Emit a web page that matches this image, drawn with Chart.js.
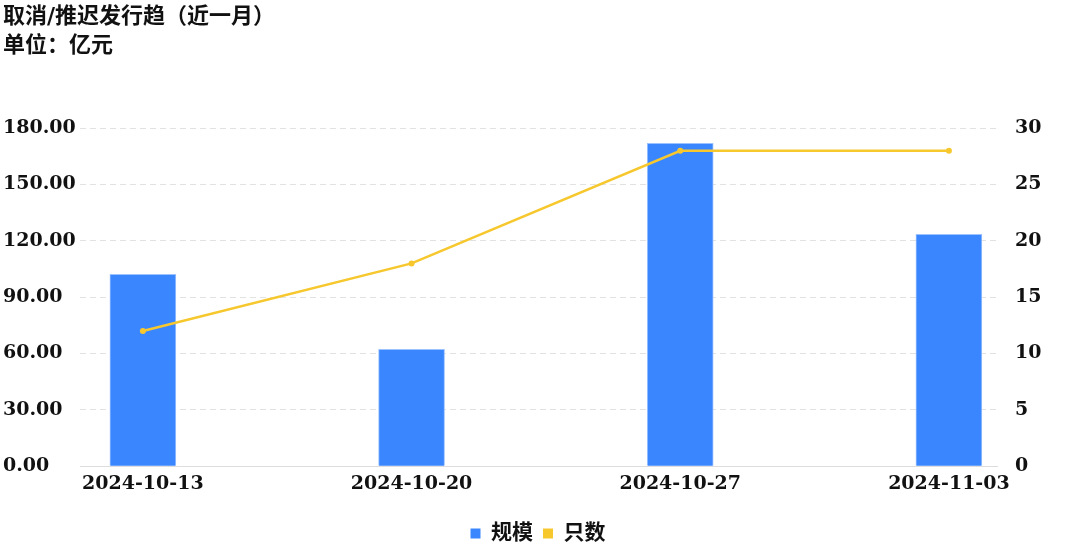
<!DOCTYPE html>
<html>
<head>
<meta charset="utf-8">
<script src="https://cdn.jsdelivr.net/npm/chart.js@4.4.1/dist/chart.umd.min.js"></script>
<style>
  html, body { margin: 0; padding: 0; background: #ffffff; }
  #wrap { position: relative; width: 1073px; height: 558px; }
</style>
</head>
<body>
<div id="wrap"><canvas id="c" width="1073" height="558"></canvas></div>
<script>
const categories = ['2024-10-13', '2024-10-20', '2024-10-27', '2024-11-03'];
const scaleValues = [102.2, 62.3, 172.0, 123.5];   // 规模 (亿元)
const countValues = [12, 18, 28, 28];              // 只数
const seriesNames = ['规模', '只数'];
const titleLines = ['取消/推迟发行趋（近一月）', '单位：亿元'];
const leftTicks = [0, 30, 60, 90, 120, 150, 180];
const rightTicks = [0, 5, 10, 15, 20, 25, 30];

const FONT = '"DejaVu Serif", "Noto Sans CJK SC", serif';
const BLUE = '#3a86ff';
const YELLOW = '#f6c82e';

const barData = categories.map((c, i) => ({ x: i, y: scaleValues[i] }));
const lineData = categories.map((c, i) => ({ x: i, y: countValues[i] }));

new Chart(document.getElementById('c'), {
  type: 'bar',
  data: {
    datasets: [
      {
        type: 'line',
        label: seriesNames[1],
        data: lineData,
        yAxisID: 'y1',
        borderColor: YELLOW,
        backgroundColor: YELLOW,
        borderWidth: 2.5,
        pointRadius: 3,
        pointBackgroundColor: YELLOW,
        pointBorderWidth: 0,
        tension: 0,
        order: 0
      },
      {
        type: 'bar',
        label: seriesNames[0],
        data: barData,
        yAxisID: 'y',
        backgroundColor: BLUE,
        borderColor: '#9cc2ff',
        borderWidth: 1,
        barThickness: 66,
        order: 1
      }
    ]
  },
  options: {
    responsive: false,
    animation: false,
    layout: { padding: { left: 3, right: 0, top: 0, bottom: 4 } },
    plugins: {
      title: {
        display: true,
        text: titleLines,
        align: 'start',
        color: '#111',
        font: { family: FONT, size: 22, weight: 'bold', lineHeight: 1.3 },
        padding: { top: 3, bottom: 68 }
      },
      legend: {
        position: 'bottom',
        reverse: true,
        labels: {
          color: '#111',
          boxWidth: 10,
          boxHeight: 10,
          padding: 10,
          font: { family: FONT, size: 21, weight: 'bold' },
          generateLabels: (chart) => {
            const items = Chart.defaults.plugins.legend.labels.generateLabels(chart);
            items.forEach(it => { it.lineWidth = 0; it.strokeStyle = 'transparent'; });
            return items;
          }
        }
      },
      tooltip: { enabled: false }
    },
    scales: {
      x: {
        type: 'linear',
        offset: false,
        min: -0.234,
        max: 3.179,
        grid: { display: false, drawTicks: false, offset: false },
        border: { display: true, color: '#dddddd', width: 1 },
        afterBuildTicks: (s) => { s.ticks = categories.map((c, i) => ({ value: i })); },
        afterFit: (s) => { s.height += 12; },
        ticks: {
          color: '#111',
          padding: 6,
          maxRotation: 0,
          font: { family: FONT, size: 19, weight: 'bold' },
          callback: (v) => categories[v]
        }
      },
      y: {
        position: 'left',
        min: 0,
        max: 180,
        afterBuildTicks: (s) => { s.ticks = leftTicks.map(v => ({ value: v })); },
        afterFit: (s) => { s.width = 77; },
        grid: { color: '#e2e2e2', lineWidth: 1, drawTicks: false },
        border: { display: false, dash: (ctx) => (ctx.tick && ctx.tick.value === 0) ? [] : [6, 4] },
        ticks: {
          color: '#111',
          crossAlign: 'far',
          padding: 4,
          font: { family: FONT, size: 19, weight: 'bold' },
          callback: (v) => Number(v).toFixed(2)
        }
      },
      y1: {
        position: 'right',
        min: 0,
        max: 30,
        afterBuildTicks: (s) => { s.ticks = rightTicks.map(v => ({ value: v })); },
        afterFit: (s) => { s.width = 76; },
        grid: { display: false, drawTicks: false },
        border: { display: false },
        ticks: {
          color: '#111',
          padding: 18,
          font: { family: FONT, size: 19, weight: 'bold' }
        }
      }
    }
  }
});
</script>
</body>
</html>
